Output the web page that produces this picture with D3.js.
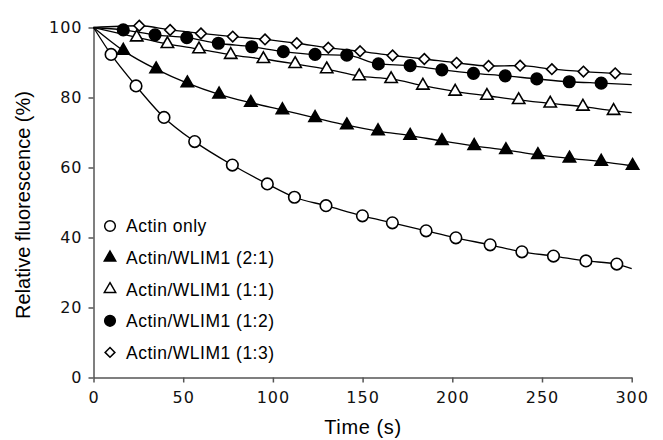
<!DOCTYPE html>
<html>
<head>
<meta charset="utf-8">
<script src="https://cdn.jsdelivr.net/npm/d3@7"></script>
<style>
  body { margin: 0; background: white; }
</style>
</head>
<body>
<div id="chart"></div>
<script>
// marker times (s) and values (%)
const actinT = [9.8, 23.7, 39.3, 56.4, 77.4, 96.9, 112.0, 129.6, 149.9, 166.6, 185.4, 202.0, 221.1, 238.8, 256.4, 274.5, 291.7]
const actinV = [92.3, 83.3, 74.3, 67.4, 60.7, 55.3, 51.5, 49.1, 46.2, 44.2, 41.9, 39.9, 37.9, 35.9, 34.7, 33.3, 32.4]
const r21T = [16.6, 34.9, 52.3, 70.0, 87.7, 105.3, 123.5, 141.2, 158.6, 176.5, 194.2, 212.2, 229.9, 247.7, 265.3, 283.0, 300.5]
const r21V = [93.4, 88.1, 84.1, 80.9, 78.5, 76.4, 74.2, 72.1, 70.4, 69.1, 67.6, 66.2, 65.0, 63.6, 62.6, 61.7, 60.5]
const r11T = [24.1, 41.2, 58.8, 76.5, 94.7, 112.4, 130.0, 148.1, 165.9, 183.6, 201.6, 219.3, 237.0, 254.6, 272.8, 289.9]
const r11V = [97.2, 95.3, 93.8, 92.2, 91.0, 89.6, 88.1, 86.1, 85.3, 83.4, 81.7, 80.5, 79.3, 78.3, 77.4, 76.2]
const r12T = [16.6, 34.3, 52.0, 69.6, 88.2, 105.8, 123.5, 141.2, 158.8, 176.5, 194.2, 211.8, 229.5, 247.1, 265.2, 283.0]
const r12V = [99.3, 97.9, 97.1, 95.5, 94.5, 93.1, 92.3, 92.1, 89.6, 89.1, 87.9, 86.9, 86.2, 85.3, 84.5, 84.1]
const r13T = [25.5, 42.7, 59.9, 77.6, 95.6, 113.3, 130.9, 148.6, 166.7, 184.4, 202.4, 220.2, 237.8, 255.5, 273.1, 290.8]
const r13V = [100.5, 99.3, 98.3, 97.4, 96.6, 95.5, 94.2, 93.2, 92.0, 91.0, 89.9, 89.0, 89.1, 88.1, 87.4, 86.9]
// trace end values at t = 300
const endV = [31.1, 60.5, 75.7, 83.7, 86.6]

const labels = ['Actin only', 'Actin/WLIM1 (2:1)', 'Actin/WLIM1 (1:1)', 'Actin/WLIM1 (1:2)', 'Actin/WLIM1 (1:3)']
const xTicks = [0, 50, 100, 150, 200, 250, 300]
const yTicks = [0, 20, 40, 60, 80, 100]

const width = 663, height = 440
const axisColor = '#555'
const sans = '"Liberation Sans", Arial, sans-serif'

var series = [
	{t: actinT, v: actinV, sym: d3.symbolCircle, size: 105, fill: 'white'},
	{t: r21T, v: r21V, sym: d3.symbolTriangle, size: 66, fill: 'black'},
	{t: r11T, v: r11V, sym: d3.symbolTriangle, size: 66, fill: 'white'},
	{t: r12T, v: r12V, sym: d3.symbolCircle, size: 105, fill: 'black'},
	{t: r13T, v: r13V, sym: d3.symbolDiamond2, size: 72, fill: 'white'}
]

var x = d3.scaleLinear().domain([0, 300]).range([93.5, 631.7])
var y = d3.scaleLinear().domain([0, 100]).range([377.5, 27.5])

var svg = d3.select('#chart').append('svg')
	.attr('width', width)
	.attr('height', height)
	.style('background', 'white')

// axes
var gx = svg.append('g')
	.attr('transform', 'translate(0,' + y(0) + ')')
	.call(d3.axisBottom(x).tickValues(xTicks).tickSize(5).tickSizeOuter(0).tickPadding(9))
var gy = svg.append('g')
	.attr('transform', 'translate(' + x(0) + ',0)')
	.call(d3.axisLeft(y).tickValues(yTicks).tickSize(5).tickSizeOuter(0).tickPadding(6))
svg.selectAll('.domain, .tick line')
	.attr('stroke', axisColor)
	.attr('stroke-width', 1.5)
svg.selectAll('.tick text')
	.attr('fill', '#111')
	.style('font-family', '"DejaVu Sans", Verdana, sans-serif')
	.style('font-size', '16px')
	.style('letter-spacing', '1px')

// axis titles
svg.append('text')
	.attr('x', 363)
	.attr('y', 434)
	.attr('text-anchor', 'middle')
	.style('font-family', sans)
	.style('font-size', '20px')
	.style('letter-spacing', '0.6px')
	.text('Time (s)')
svg.append('text')
	.attr('transform', 'translate(30,205) rotate(-90)')
	.attr('text-anchor', 'middle')
	.style('font-family', sans)
	.style('font-size', '20px')
	.text('Relative fluorescence (%)')

// traces: start at 100 %, through the markers, to the end value
var line = d3.line()
	.x(d => x(d[0]))
	.y(d => y(d[1]))
	.curve(d3.curveMonotoneX)
series.forEach((s, i) => {
	var pts = [[0, 100]]
	s.t.forEach((t, j) => { if (t < 300) pts.push([t, s.v[j]]) })
	pts.push([300, endV[i]])
	svg.append('path')
		.datum(pts)
		.attr('d', line)
		.attr('fill', 'none')
		.attr('stroke', 'black')
		.attr('stroke-width', 1.3)
})

// markers
series.forEach(s => {
	svg.append('g').selectAll('path')
		.data(s.t.map((t, j) => [t, s.v[j]]))
		.enter()
		.append('path')
		.attr('transform', d => 'translate(' + x(d[0]) + ',' + y(d[1]) + ')')
		.attr('d', d3.symbol().type(s.sym).size(s.size))
		.attr('fill', s.fill)
		.attr('stroke', 'black')
		.attr('stroke-width', 1.6)
})

// legend
var legend = svg.append('g')
	.selectAll('g')
	.data(series)
	.enter()
	.append('g')
	.attr('transform', (d, i) => 'translate(110,' + (226 + i * 31.6) + ')')
legend.append('path')
	.attr('d', d => d3.symbol().type(d.sym).size(d.size * 0.85)())
	.attr('fill', d => d.fill)
	.attr('stroke', 'black')
	.attr('stroke-width', 1.5)
legend.append('text')
	.attr('x', 16)
	.attr('dy', '0.36em')
	.style('font-family', sans)
	.style('font-size', '17.5px')
	.style('letter-spacing', '0.5px')
	.text((d, i) => labels[i])
</script>
</body>
</html>
